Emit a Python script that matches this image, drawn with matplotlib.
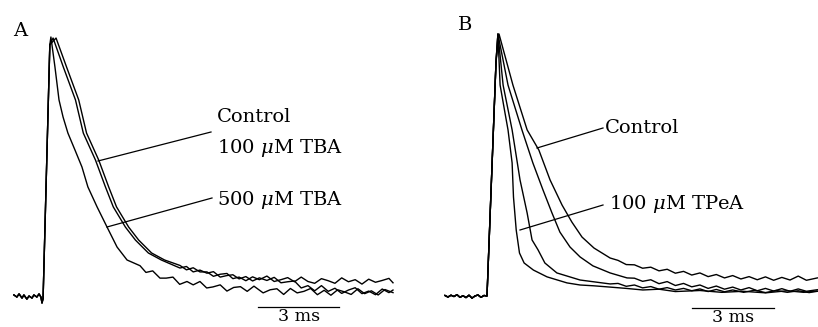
import matplotlib
matplotlib.use("Agg")
import matplotlib.pyplot as plt
from matplotlib.lines import Line2D

plt.rcParams['font.family'] = ['DejaVu Serif']
plt.rcParams['mathtext.fontset'] = 'dejavuserif'

#---------------Traces, panel A (time in ms, amplitude in % of peak)----------

a_base_t = [-1.04, -0.93, -0.85, -0.74, -0.67, -0.56, -0.48, -0.37, -0.30, -0.19, -0.11, -0.04, 0.0]
a_base_v = [0.4, -0.4, 0.8, -0.8, 0.4, -1.2, 0.0, -0.8, 0.4, -0.4, 0.8, -0.4, -2.7]
a_rise_t = [0.04, 0.29]
a_rise_v = [-1.0, 97.0]

# Control (slowest, stays high in the tail)
a_ctrl_t = [0.52, 0.91, 1.36, 1.65, 2.10, 2.47, 2.76, 3.21, 3.58, 4.06, 4.54,
            5.11, 5.35, 5.6, 5.85, 6.11, 6.35, 6.6, 6.85, 7.07, 7.3, 7.55, 7.8, 8.05,
            8.33, 8.6, 8.85, 9.1, 9.35, 9.6, 9.85, 10.1, 10.35, 10.6, 10.85, 11.1,
            11.35, 11.6, 11.85, 12.1, 12.35, 12.6, 12.85, 13.0]
a_ctrl_v = [99.6, 88.4, 75.7, 62.9, 52.5, 42.1, 34.4, 26.6, 21.6, 16.6, 13.9,
            11.8, 10.1, 10.9, 9.3, 9.3, 7.6, 8.4, 8.7, 6.7, 7.3, 5.9, 7.4, 6.3,
            7.7, 5.6, 6.3, 7.1, 5.5, 7.3, 5.6, 4.9, 6.7, 5.9, 4.9, 7.0,
            5.5, 6.3, 4.6, 6.5, 5.3, 6.0, 6.8, 5.1]

# 100 uM TBA (almost on top of control, drops back late)
a_tba100_t = [0.41, 0.79, 1.24, 1.53, 1.98, 2.35, 2.64, 3.09, 3.46, 3.94, 4.42,
              5.11, 5.35, 5.6, 5.85, 6.11, 6.35, 6.6, 6.85, 7.07, 7.3, 7.55, 7.8, 8.05,
              8.33, 8.6, 8.85, 9.1, 9.35, 9.6, 9.85, 10.1, 10.35, 10.6, 10.85, 11.1,
              11.35, 11.6, 11.85, 12.1, 12.35, 12.6, 12.85, 13.0]
a_tba100_v = [99.6, 88.4, 75.7, 62.9, 52.5, 42.1, 34.4, 26.6, 21.6, 16.6, 13.9,
              10.8, 11.4, 9.3, 10.0, 8.8, 9.4, 7.3, 7.9, 8.2, 6.6, 7.5, 5.8, 7.0,
              6.0, 7.2, 5.1, 5.5, 5.8, 3.1, 4.0, 2.0, 4.0, 1.8, 3.0, 1.0,
              2.3, 3.2, 0.9, 1.9, 0.5, 2.7, 1.3, 2.3]

# 500 uM TBA (fastest decay)
a_tba500_t = [0.33, 0.48, 0.63, 0.78, 0.96, 1.22, 1.48, 1.70, 2.04, 2.41, 2.78, 3.15,
              3.63, 3.85, 4.1, 4.37, 4.6, 4.85, 5.1, 5.37, 5.6, 5.85, 6.1, 6.33, 6.6,
              6.85, 7.1, 7.35, 7.6, 7.85, 8.19, 8.45, 8.7, 8.95, 9.2, 9.45, 9.7, 9.95,
              10.2, 10.45, 10.7, 10.95, 11.2, 11.45, 11.7, 11.95, 12.2, 12.45, 12.7, 13.0]
a_tba500_v = [100, 88.4, 75.7, 69.1, 62.9, 56.4, 49.8, 42.1, 34.4, 26.6, 18.9, 13.9,
              11.7, 9.1, 9.7, 6.9, 6.9, 7.3, 4.5, 5.6, 4.3, 5.6, 3.1, 3.5, 4.3,
              1.9, 3.3, 3.6, 1.8, 3.8, 1.2, 2.4, 2.8, 0.6, 2.9, 1.2, 1.8, 2.9,
              0.5, 2.2, 0.3, 2.4, 1.6, 0.6, 2.8, 0.9, 2.0, 0.4, 2.5, 1.3]

#---------------Traces, panel B--------------------------------------------

b_base_t = [-1.54, -1.43, -1.32, -1.21, -1.10, -0.99, -0.88, -0.77, -0.66, -0.55, -0.44, -0.33, -0.22, -0.11, 0.0]
b_base_v = [0.2, -0.4, 0.3, -0.2, 0.5, -0.5, 0.1, -0.6, 0.3, -0.8, 0.0, 0.4, -0.5, 0.2, 0.0]
b_rise_t = [0.11, 0.22, 0.33]
b_rise_v = [29.8, 59.5, 89.3]

b_ctrl_t = [0.44, 0.95, 1.47, 1.90, 2.31, 2.75, 3.11, 3.48, 3.92, 4.51,
            4.8, 5.1, 5.4, 5.7, 6.0, 6.3, 6.6, 6.9, 7.2, 7.5, 7.8, 8.1, 8.4, 8.7, 9.0,
            9.3, 9.6, 9.9, 10.2, 10.5, 10.8, 11.1, 11.4, 11.7, 12.1]
b_ctrl_v = [100, 80.5, 63.4, 55.7, 44.3, 34.7, 28.2, 22.5, 18.3, 14.5,
            13.6, 12.0, 11.9, 10.6, 11.0, 9.6, 10.2, 8.7, 9.4, 8.0, 8.8, 7.4, 8.2, 6.9, 7.8,
            6.5, 7.4, 6.2, 7.3, 6.0, 7.1, 6.1, 7.6, 6.0, 6.9]

b_tr3_t = [0.40, 0.77, 1.28, 1.68, 2.05, 2.38, 2.67, 3.04, 3.41, 3.88, 4.51, 5.13,
           5.4, 5.7, 6.0, 6.3, 6.6, 6.9, 7.2, 7.5, 7.8, 8.1, 8.4, 8.7, 9.0, 9.3, 9.6,
           9.9, 10.2, 10.5, 10.8, 11.1, 11.4, 11.7, 12.1]
b_tr3_v = [100, 80.5, 63.4, 50.8, 40.5, 31.7, 24.4, 18.7, 14.9, 11.5, 8.8, 6.9,
           6.8, 5.6, 6.2, 4.7, 5.5, 4.0, 4.8, 3.5, 4.2, 2.9, 3.8, 2.6, 3.4, 2.3, 3.2,
           2.0, 2.9, 1.9, 2.8, 1.8, 2.7, 1.8, 2.4]

b_tr2_t = [0.40, 0.59, 0.92, 1.21, 1.47, 1.65, 1.87, 2.12, 2.56, 3.41, 4.51,
           4.8, 5.1, 5.4, 5.7, 6.0, 6.3, 6.6, 6.9, 7.2, 7.5, 7.8, 8.1, 8.4, 8.7, 9.0,
           9.4, 9.8, 10.2, 10.6, 11.0, 11.4, 11.8, 12.1]
b_tr2_v = [100, 80.5, 63.4, 44.3, 31.7, 21.4, 17.6, 12.6, 8.8, 6.1, 4.6,
           4.8, 3.7, 4.2, 3.1, 3.6, 2.6, 3.2, 2.3, 2.9, 2.0, 2.7, 1.7, 2.5, 1.6, 2.3,
           1.4, 2.2, 1.3, 2.1, 1.4, 2.0, 1.3, 1.8]

# 100 uM TPeA (fastest)
b_tpea_t = [0.40, 0.48, 0.66, 0.77, 0.92, 0.97, 1.07, 1.19, 1.36, 1.70, 2.20, 2.93, 3.41,
            3.9, 4.51, 5.1, 5.71, 6.3, 6.9, 7.80, 8.6, 9.38, 10.2, 11.0, 11.6, 12.09]
b_tpea_v = [100, 80.5, 69.8, 63.4, 50.8, 37.8, 25.2, 16.4, 12.6, 9.9, 7.3, 5.0, 4.2,
            3.9, 3.4, 2.9, 2.3, 2.6, 1.7, 2.1, 1.4, 1.8, 1.2, 2.0, 1.4, 1.9]

#---------------Layout helpers------------------------------------------------

W, H = 818, 327
fig = plt.figure(figsize=(W / 100, H / 100), dpi=100)

def fx(x):
    return x / W

def fy(y):
    return 1 - y / H

axA = fig.add_axes([0, 0, 409 / W, 1])
axB = fig.add_axes([409 / W, 0, 409 / W, 1])

# pixel -> data mapping for each panel
axA.set_xlim((0 - 42) / 27.0, (409 - 42) / 27.0)
axA.set_ylim((296 - 327) / 2.59, 296 / 2.59)
axB.set_xlim((409 - 487) / 27.3, (818 - 487) / 27.3)
axB.set_ylim((296 - 327) / 2.62, 296 / 2.62)

for ax in (axA, axB):
    ax.axis('off')

lw = 1.0

for t, v in [(a_ctrl_t, a_ctrl_v), (a_tba100_t, a_tba100_v), (a_tba500_t, a_tba500_v)]:
    axA.plot(a_base_t + a_rise_t + t, a_base_v + a_rise_v + v, color='black', lw=lw)

for t, v in [(b_ctrl_t, b_ctrl_v), (b_tr3_t, b_tr3_v), (b_tr2_t, b_tr2_v), (b_tpea_t, b_tpea_v)]:
    axB.plot(b_base_t + b_rise_t + t, b_base_v + b_rise_v + v, color='black', lw=lw)

#---------------Scale bars (3 ms)------------------------------------------

axA.plot([8.0, 11.0], [-4.25, -4.25], color='black', lw=0.9)
axB.plot([7.5, 10.5], [-4.6, -4.6], color='black', lw=0.9)
fig.text(fx(299), fy(316.5), "3 ms", ha='center', va='center', fontsize=12.5)
fig.text(fx(733), fy(317), "3 ms", ha='center', va='center', fontsize=12.5)

#---------------Panel letters and labels-----------------------------------

fig.text(fx(20), fy(31), "A", ha='center', va='center', fontsize=14)
fig.text(fx(465), fy(25), "B", ha='center', va='center', fontsize=14)

fs = 14
fig.text(fx(217), fy(117), "Control", ha='left', va='center', fontsize=fs)
fig.text(fx(217), fy(148), r"100 $\mu$M TBA", ha='left', va='center', fontsize=fs)
fig.text(fx(217), fy(200), r"500 $\mu$M TBA", ha='left', va='center', fontsize=fs)
fig.text(fx(605), fy(128), "Control", ha='left', va='center', fontsize=fs)
fig.text(fx(609), fy(204), r"100 $\mu$M TPeA", ha='left', va='center', fontsize=fs)

# pointer lines
pointers = [((211, 132), (98, 161)),
            ((212, 198), (107, 227)),
            ((603, 128), (537, 148)),
            ((603, 205), (520, 230))]
for (x1, y1), (x2, y2) in pointers:
    fig.add_artist(Line2D([fx(x1), fx(x2)], [fy(y1), fy(y2)], color='black', lw=0.9))

fig.savefig("out.png", dpi=100, facecolor='white')
